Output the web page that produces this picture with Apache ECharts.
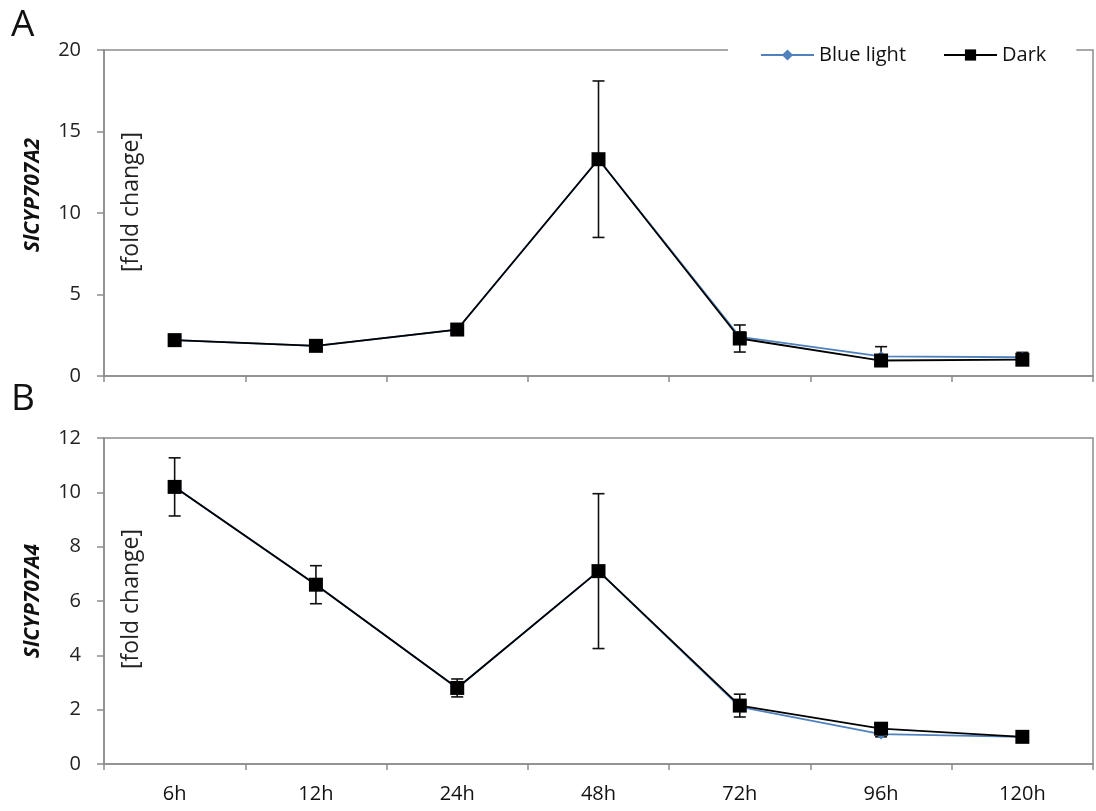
<!DOCTYPE html>
<html>
<head>
<meta charset="utf-8">
<script src="https://cdn.jsdelivr.net/npm/echarts@6/dist/echarts.min.js"></script>
<style>
  html, body { margin: 0; padding: 0; background: #fff; }
  #chart { width: 1096px; height: 811px; }
</style>
</head>
<body>
<div id="chart"></div>
<script>
// Sampling times (hours after treatment)
const categories = ['6h', '12h', '24h', '48h', '72h', '96h', '120h'];

// Panel A: SlCYP707A2 relative expression [fold change]
const blueA = [2.2, 1.85, 2.85, 13.3, 2.4, 1.2, 1.15];
const darkA = [2.2, 1.85, 2.85, 13.3, 2.3, 0.95, 1.0];
const blueErrA = [0.1, 0.1, 0.15, 0.3, 0.3, 0.6, 0.3];
const darkErrA = [0.1, 0.1, 0.2, 4.8, 0.83, 0.1, 0.1];

// Panel B: SlCYP707A4 relative expression [fold change]
const blueB = [10.2, 6.6, 2.8, 7.1, 2.1, 1.1, 1.0];
const darkB = [10.2, 6.6, 2.8, 7.1, 2.15, 1.3, 1.0];
const blueErrB = [0.15, 0.15, 0.1, 0.15, 0.15, 0.1, 0.05];
const darkErrB = [1.07, 0.7, 0.33, 2.85, 0.42, 0.1, 0.05];

// Y axis ranges and tick steps
const yMaxA = 20, yStepA = 5;
const yMaxB = 12, yStepB = 2;

const FONT = '"Open Sans", "Liberation Sans", sans-serif';
const AXIS_COLOR = '#8c8c8c';
const BLUE = '#4F81BD';
const DARK = '#000000';

function errData(means, errs) {
  return means.map((m, i) => [i, m - errs[i], m + errs[i]]);
}

function renderErr(params, api) {
  const x = api.value(0);
  const lo = api.coord([x, api.value(1)]);
  const hi = api.coord([x, api.value(2)]);
  const half = 6;
  const style = { stroke: '#111', lineWidth: 1.6 };
  return {
    type: 'group',
    children: [
      { type: 'line', shape: { x1: lo[0], y1: lo[1], x2: hi[0], y2: hi[1] }, style },
      { type: 'line', shape: { x1: hi[0] - half, y1: hi[1], x2: hi[0] + half, y2: hi[1] }, style },
      { type: 'line', shape: { x1: lo[0] - half, y1: lo[1], x2: lo[0] + half, y2: lo[1] }, style }
    ]
  };
}

function xAxisFor(gridIndex, showLabels) {
  return {
    type: 'category',
    gridIndex,
    data: categories,
    boundaryGap: true,
    axisLine: { show: true, lineStyle: { color: AXIS_COLOR, width: 1.5 } },
    axisTick: { show: true, alignWithLabel: false, length: 6, lineStyle: { color: AXIS_COLOR, width: 1.5 } },
    axisLabel: { show: showLabels, margin: 20, fontFamily: FONT, fontSize: 20, color: '#111' },
    splitLine: { show: false }
  };
}

function yAxisFor(gridIndex, max, step) {
  return {
    type: 'value',
    gridIndex,
    min: 0,
    max,
    interval: step,
    axisLine: { show: true, lineStyle: { color: AXIS_COLOR, width: 1.5 } },
    axisTick: { show: true, length: 7, lineStyle: { color: AXIS_COLOR, width: 1.5 } },
    axisLabel: { margin: 23, fontFamily: FONT, fontSize: 20, color: '#222' },
    splitLine: { show: false }
  };
}

function lineSeries(name, data, idx, color, symbol, size, z) {
  return {
    name,
    type: 'line',
    xAxisIndex: idx,
    yAxisIndex: idx,
    data,
    symbol,
    symbolSize: size,
    z,
    lineStyle: { color, width: 1.8 },
    itemStyle: { color, borderWidth: 0 },
    emphasis: { disabled: true }
  };
}

function errSeries(means, errs, idx) {
  return {
    type: 'custom',
    xAxisIndex: idx,
    yAxisIndex: idx,
    renderItem: renderErr,
    data: errData(means, errs),
    z: 1,
    silent: true
  };
}

const chart = echarts.init(document.getElementById('chart'), null, { renderer: 'canvas' });

chart.setOption({
  animation: false,
  backgroundColor: '#fff',
  grid: [
    { left: 104, right: 3, top: 50, height: 326, show: true, borderColor: AXIS_COLOR, borderWidth: 1.5 },
    { left: 104, right: 3, top: 438, height: 326, show: true, borderColor: AXIS_COLOR, borderWidth: 1.5 }
  ],
  legend: {
    data: ['Blue light', 'Dark'],
    left: 728,
    top: 41,
    padding: [4, 30, 4, 32],
    backgroundColor: '#fff',
    itemWidth: 53,
    itemHeight: 14,
    itemGap: 37,
    textStyle: { fontFamily: FONT, fontSize: 20, color: '#111' }
  },
  xAxis: [xAxisFor(0, false), xAxisFor(1, true)],
  yAxis: [yAxisFor(0, yMaxA, yStepA), yAxisFor(1, yMaxB, yStepB)],
  series: [
    errSeries(blueA, blueErrA, 0),
    errSeries(darkA, darkErrA, 0),
    lineSeries('Blue light', blueA, 0, BLUE, 'diamond', 11, 2),
    lineSeries('Dark', darkA, 0, DARK, 'rect', 14, 3),
    errSeries(blueB, blueErrB, 1),
    errSeries(darkB, darkErrB, 1),
    lineSeries('Blue light', blueB, 1, BLUE, 'diamond', 11, 2),
    lineSeries('Dark', darkB, 1, DARK, 'rect', 14, 3)
  ],
  graphic: [
    { type: 'text', left: 11, top: 7, style: { text: 'A', font: '37px ' + FONT, fill: '#111' } },
    { type: 'text', left: 11, top: 381, style: { text: 'B', font: '37px ' + FONT, fill: '#111' } },
    {
      type: 'text', x: 33, y: 195, rotation: Math.PI / 2,
      style: { text: 'SlCYP707A2', font: 'italic bold 21px ' + FONT, fill: '#111', align: 'center', verticalAlign: 'middle' }
    },
    {
      type: 'text', x: 33, y: 601, rotation: Math.PI / 2,
      style: { text: 'SlCYP707A4', font: 'italic bold 21px ' + FONT, fill: '#111', align: 'center', verticalAlign: 'middle' }
    },
    {
      type: 'text', x: 131, y: 202, rotation: Math.PI / 2,
      style: { text: '[fold change]', font: '23px ' + FONT, fill: '#222', align: 'center', verticalAlign: 'middle' }
    },
    {
      type: 'text', x: 131, y: 599, rotation: Math.PI / 2,
      style: { text: '[fold change]', font: '23px ' + FONT, fill: '#222', align: 'center', verticalAlign: 'middle' }
    }
  ]
});
</script>
</body>
</html>
